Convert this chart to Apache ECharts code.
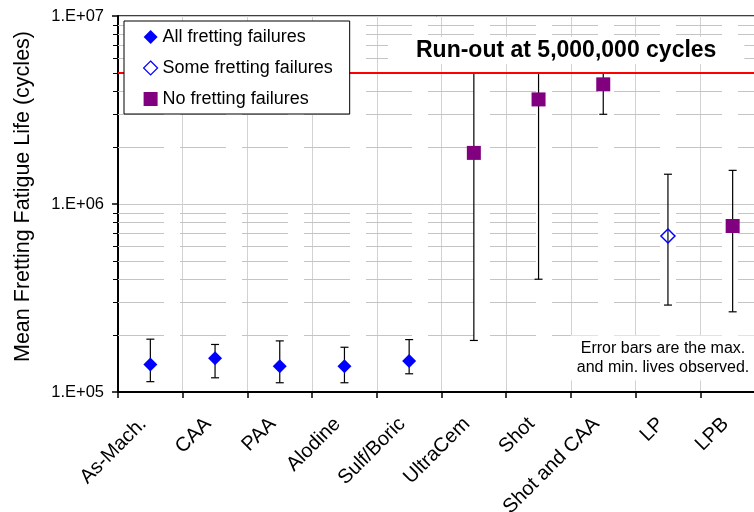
<!DOCTYPE html>
<html>
<head>
<meta charset="utf-8">
<script src="https://cdn.jsdelivr.net/npm/echarts@6/dist/echarts.min.js"></script>
<style>
  html, body { margin: 0; padding: 0; background: #fff; }
  #chart { width: 754px; height: 512px; }
</style>
</head>
<body>
<div id="chart"></div>
<script>
// Surface treatments tested in fretting fatigue
const categories = ['As-Mach.', 'CAA', 'PAA', 'Alodine', 'Sulf/Boric', 'UltraCem', 'Shot', 'Shot and CAA', 'LP', 'LPB'];
// Mean, maximum and minimum fretting fatigue lives (cycles)
const meanLife = [140000, 151000, 137000, 137000, 146000, 1870000, 3600000, 4330000, 676000, 764000];
const maxLife  = [191000, 179000, 187000, 173000, 190000, 5000000, 5000000, 5000000, 1440000, 1510000];
const minLife  = [113500, 119000, 112000, 112000, 125000, 188000, 398000, 3000000, 290000, 267000];
// Failure outcome per treatment: 'all', 'some' or 'none'
const outcome = ['all', 'all', 'all', 'all', 'all', 'none', 'none', 'none', 'some', 'none'];
const runOut = 5000000;
// Decade tick labels of the log axis
const yTickLabels = { 5: '1.E+05', 6: '1.E+06', 7: '1.E+07' };
// Intermediate log gridlines (2..9 within each decade)
const minorValues = [];
[100000, 1000000].forEach(d => { for (let k = 2; k <= 9; k++) minorValues.push(k * d); });

const FONT = 'Liberation Sans, Arial, sans-serif';

function pick(kind) {
  return meanLife.map((v, i) => outcome[i] === kind ? v : '-');
}

const chart = echarts.init(document.getElementById('chart'), null, { renderer: 'canvas' });

chart.setOption({
  animation: false,
  backgroundColor: '#fff',
  title: {
    text: 'Run-out at 5,000,000 cycles',
    left: 388,
    top: 37,
    z: 20,
    padding: [0, 28],
    backgroundColor: '#fff',
    textStyle: { fontFamily: FONT, fontSize: 23, fontWeight: 'bold', color: '#000', lineHeight: 27 }
  },
  legend: {
    orient: 'vertical',
    left: 124,
    top: 21,
    z: 20,
    align: 'left',
    padding: [6, 17, 5, 19],
    itemGap: 11,
    itemWidth: 14,
    itemHeight: 14,
    backgroundColor: '#fff',
    borderColor: '#000',
    borderWidth: 1,
    selectedMode: false,
    textStyle: { fontFamily: FONT, fontSize: 18, color: '#000', lineHeight: 20 },
    data: [
      { name: 'All fretting failures', itemStyle: { color: '#0000ff', opacity: 1 } },
      { name: 'Some fretting failures', itemStyle: { color: '#fff', borderColor: '#0000ff', borderWidth: 1.2, opacity: 1 } },
      { name: 'No fretting failures', itemStyle: { color: '#800080', opacity: 1 } }
    ]
  },
  grid: {
    left: 118, top: 16, width: 647, height: 376,
    outerBoundsMode: 'none',
    show: true, borderColor: '#000', borderWidth: 1.5,
    containLabel: false
  },
  xAxis: {
    type: 'category',
    data: categories,
    boundaryGap: true,
    axisLine: { lineStyle: { color: '#000', width: 2 } },
    axisTick: { show: true, length: 6, lineStyle: { color: '#000', width: 1.5 } },
    splitLine: { show: true, lineStyle: { color: '#d2d2d2', width: 1 } },
    axisLabel: {
      interval: 0, rotate: 45, margin: 36,
      verticalAlign: 'bottom',
      fontFamily: FONT, fontSize: 20, color: '#000'
    }
  },
  yAxis: {
    type: 'log',
    logBase: 10,
    min: 100000,
    max: 10000000,
    name: 'Mean Fretting Fatigue Life (cycles)',
    nameLocation: 'middle',
    nameGap: 84,
    nameTextStyle: { fontFamily: FONT, fontSize: 21.5, color: '#000', padding: [0, 0, 0, 15] },
    axisLine: { show: true, lineStyle: { color: '#000', width: 2 } },
    axisTick: { show: true, length: 6, lineStyle: { color: '#000', width: 1.5 } },
    splitLine: { show: true, lineStyle: { color: '#c8c8c8', width: 1 } },
    axisLabel: {
      margin: 14,
      fontFamily: FONT, fontSize: 16.5, color: '#000',
      formatter: v => yTickLabels[Math.round(Math.log10(v))] || ''
    }
  },
  graphic: [{
    type: 'text',
    z: 20,
    style: {
      x: 663,
      y: 358,
      text: 'Error bars are the max.\nand min. lives observed.',
      fontFamily: FONT, fontSize: 16, fill: '#000',
      align: 'center', verticalAlign: 'middle', lineHeight: 19.5,
      backgroundColor: '#fff', padding: [3, 6]
    }
  }],
  series: [
    {
      // dashed gridlines and small ticks at the intermediate log values
      type: 'custom',
      name: 'minor',
      silent: true,
      z: 1,
      clip: false,
      data: minorValues.map(v => [0, v]),
      renderItem: function (params, api) {
        const cs = params.coordSys;
        const y = Math.round(api.coord([0, api.value(1)])[1]) + 0.5;
        return {
          type: 'group',
          children: [
            {
              type: 'line',
              shape: { x1: cs.x, y1: y, x2: cs.x + cs.width, y2: y },
              style: { stroke: '#c4c4c4', lineWidth: 1, lineDash: [46, 16] }
            },
            {
              type: 'line',
              shape: { x1: cs.x - 5, y1: y, x2: cs.x, y2: y },
              style: { stroke: '#000', lineWidth: 1 }
            }
          ]
        };
      }
    },
    {
      // max/min error bars
      type: 'custom',
      name: 'range',
      silent: true,
      z: 2,
      data: categories.map((c, i) => [i, minLife[i], maxLife[i]]),
      renderItem: function (params, api) {
        const lo = api.coord([api.value(0), api.value(1)]);
        const hi = api.coord([api.value(0), api.value(2)]);
        const x = lo[0];
        const cap = 4;
        return {
          type: 'group',
          children: [
            { type: 'line', shape: { x1: x, y1: hi[1], x2: x, y2: lo[1] }, style: { stroke: '#000', lineWidth: 1.2 } },
            { type: 'line', shape: { x1: x - cap, y1: hi[1], x2: x + cap, y2: hi[1] }, style: { stroke: '#000', lineWidth: 1.2 } },
            { type: 'line', shape: { x1: x - cap, y1: lo[1], x2: x + cap, y2: lo[1] }, style: { stroke: '#000', lineWidth: 1.2 } }
          ]
        };
      }
    },
    {
      name: 'All fretting failures',
      type: 'scatter',
      z: 3,
      symbol: 'diamond',
      symbolSize: 14,
      itemStyle: { color: '#0000ff', opacity: 1 },
      data: pick('all'),
      markLine: {
        silent: true,
        symbol: 'none',
        label: { show: false },
        lineStyle: { color: '#ff0000', width: 2, type: 'solid' },
        data: [{ yAxis: runOut }]
      }
    },
    {
      name: 'Some fretting failures',
      type: 'scatter',
      z: 3,
      symbol: 'diamond',
      symbolSize: 14,
      itemStyle: { color: 'rgba(255,255,255,0)', borderColor: '#0000ff', borderWidth: 1.5, opacity: 1 },
      data: pick('some')
    },
    {
      name: 'No fretting failures',
      type: 'scatter',
      z: 3,
      symbol: 'rect',
      symbolSize: 14,
      itemStyle: { color: '#800080', opacity: 1 },
      data: pick('none')
    }
  ]
});
</script>
</body>
</html>
